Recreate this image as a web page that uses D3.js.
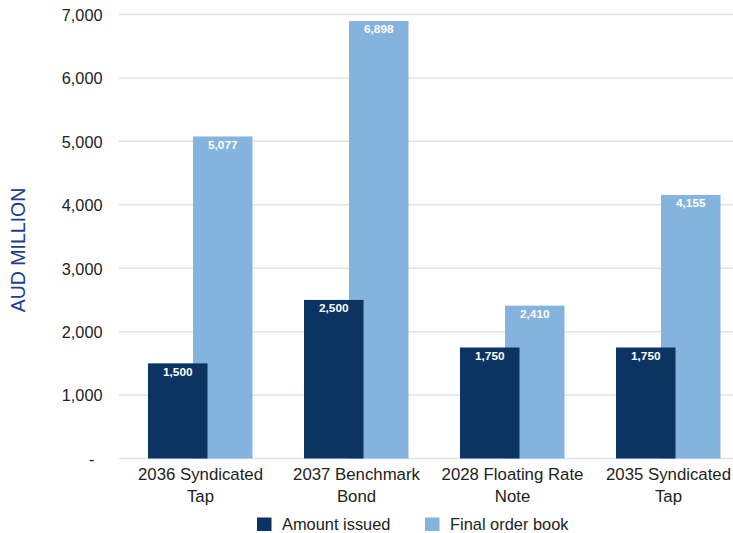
<!DOCTYPE html>
<html>
<head>
<meta charset="utf-8">
<script src="https://cdn.jsdelivr.net/npm/d3@7/dist/d3.min.js"></script>
<style>
  html, body { margin: 0; padding: 0; background: #fff; }
  svg { display: block; font-family: "Liberation Sans", Arial, sans-serif; }
</style>
</head>
<body>
<svg id="chart" width="733" height="533"></svg>
<script>
// Bond issues (two-line category labels)
const categories = [
  ["2036 Syndicated", "Tap"],
  ["2037 Benchmark", "Bond"],
  ["2028 Floating Rate", "Note"],
  ["2035 Syndicated", "Tap"]
];
const amountIssued = [1500, 2500, 1750, 1750];
const finalOrderBook = [5077, 6898, 2410, 4155];
const yTicks = [0, 1000, 2000, 3000, 4000, 5000, 6000, 7000];
const seriesNames = ["Amount issued", "Final order book"];
const seriesColors = ["#0c3463", "#84b3dd"];

const svg = d3.select("#chart");
const catKeys = categories.map(c => c.join(" "));

const x = d3.scaleBand().domain(catKeys).range([122.5, 746.5]).paddingInner(0).paddingOuter(0);
const y = d3.scaleLinear().domain([0, 7000]).range([458.5, 14.5]);

const barW = 59.5;
const barOffset = 45; // overlap between the paired bars
const fmt = d3.format(",");

// gridlines
const grid = svg.append("g").attr("class", "grid");
grid.selectAll("line").data(yTicks).join("line")
  .attr("x1", 119).attr("x2", 733)
  .attr("y1", d => y(d)).attr("y2", d => y(d))
  .attr("stroke", "#e2e2e2").attr("stroke-width", 1.5);

// y axis labels
const yAxis = d3.axisLeft(y).tickValues(yTicks)
  .tickFormat(d => d === 0 ? "-" : fmt(d)).tickSize(0).tickPadding(0);
const yg = svg.append("g").attr("transform", "translate(102.5,0)").call(yAxis);
yg.select(".domain").remove();
yg.selectAll("text").attr("font-size", 16.3).attr("fill", "#222")
  .attr("font-family", "'Liberation Sans', Arial, sans-serif")
  .attr("dy", "0.36em");
yg.selectAll(".tick").filter(d => d === 0).select("text").attr("dx", -8);

// y axis title
svg.append("text")
  .attr("transform", "translate(25,250) rotate(-90)")
  .attr("text-anchor", "middle")
  .attr("font-size", 19.5)
  .attr("fill", "#1b3f8e")
  .text("AUD MILLION");

const data = catKeys.map((k, i) => ({ key: k, lines: categories[i], a: amountIssued[i], b: finalOrderBook[i] }));
const center = k => x(k) + x.bandwidth() / 2;

// final order book bars (drawn behind)
const gB = svg.append("g");
gB.selectAll("rect").data(data).join("rect")
  .attr("x", d => center(d.key) - 52.5 + barOffset)
  .attr("width", barW)
  .attr("y", d => y(d.b))
  .attr("height", d => y(0) - y(d.b))
  .attr("fill", seriesColors[1]);
gB.selectAll("text").data(data).join("text")
  .attr("x", d => center(d.key) - 52.5 + barOffset + barW / 2)
  .attr("y", d => y(d.b) + 12.5)
  .attr("text-anchor", "middle")
  .attr("font-size", 11.8).attr("font-weight", "bold").attr("fill", "#fff")
  .text(d => fmt(d.b));

// amount issued bars (in front)
const gA = svg.append("g");
gA.selectAll("rect").data(data).join("rect")
  .attr("x", d => center(d.key) - 52.5)
  .attr("width", barW)
  .attr("y", d => y(d.a))
  .attr("height", d => y(0) - y(d.a))
  .attr("fill", seriesColors[0]);
gA.selectAll("text").data(data).join("text")
  .attr("x", d => center(d.key) - 52.5 + barW / 2)
  .attr("y", d => y(d.a) + 12.5)
  .attr("text-anchor", "middle")
  .attr("font-size", 11.8).attr("font-weight", "bold").attr("fill", "#fff")
  .text(d => fmt(d.a));

// category labels
const xg = svg.append("g");
data.forEach(d => {
  const t = xg.append("text")
    .attr("x", center(d.key))
    .attr("text-anchor", "middle")
    .attr("font-size", 16.8).attr("fill", "#222");
  d.lines.forEach((ln, j) => {
    t.append("tspan").attr("x", center(d.key)).attr("y", 479.5 + j * 22.5).text(ln);
  });
});

// legend
const legendX = [257, 425];
const lg = svg.append("g");
seriesNames.forEach((name, i) => {
  lg.append("rect").attr("x", legendX[i]).attr("y", 517.5)
    .attr("width", 14.5).attr("height", 13.5).attr("fill", seriesColors[i]);
  lg.append("text").attr("x", legendX[i] + 25).attr("y", 529.5)
    .attr("font-size", 16.4).attr("fill", "#222").text(name);
});
</script>
</body>
</html>
